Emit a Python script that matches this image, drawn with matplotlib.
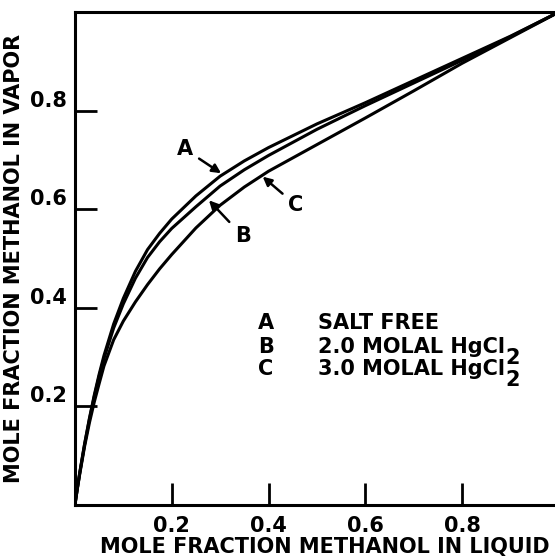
import matplotlib.pyplot as plt

# liquid mole fraction methanol
x_liq = [0.0, 0.005, 0.01, 0.02, 0.03, 0.04, 0.05, 0.06, 0.08, 0.10, 0.125,
         0.15, 0.175, 0.20, 0.25, 0.30, 0.35, 0.40, 0.50, 0.60, 0.70, 0.80,
         0.90, 1.0]
# vapor mole fraction, A: salt free
y_a = [0.0, 0.034, 0.066, 0.124, 0.176, 0.223, 0.265, 0.303, 0.367, 0.419,
       0.474, 0.518, 0.551, 0.580, 0.627, 0.667, 0.698, 0.725, 0.773, 0.816,
       0.861, 0.906, 0.951, 1.0]
# B: 2.0 molal HgCl2
y_b = [0.0, 0.0335, 0.065, 0.123, 0.174, 0.220, 0.261, 0.297, 0.359, 0.408,
       0.460, 0.502, 0.534, 0.561, 0.605, 0.647, 0.680, 0.709, 0.762, 0.810,
       0.856, 0.902, 0.950, 1.0]
# C: 3.0 molal HgCl2
y_c = [0.0, 0.033, 0.063, 0.119, 0.167, 0.209, 0.246, 0.282, 0.335, 0.373,
       0.412, 0.447, 0.479, 0.508, 0.562, 0.608, 0.645, 0.677, 0.731, 0.785,
       0.840, 0.896, 0.948, 1.0]

ticks = [0.2, 0.4, 0.6, 0.8]
tick_labels = ['0.2', '0.4', '0.6', '0.8']
legend_keys = ['A', 'B', 'C']
legend_text = ['SALT FREE', '2.0 MOLAL HgCl', '3.0 MOLAL HgCl']

plt.rcParams['font.family'] = ['DejaVu Sans']
plt.rcParams['font.weight'] = 'bold'

fig = plt.figure(figsize=(5.55, 5.57), dpi=100)
ax = fig.add_axes([0.135, 0.0934, 0.865, 0.885])

for yv in (y_a, y_b, y_c):
    ax.plot(x_liq, yv, color='black', lw=2.2, solid_joinstyle='round')

ax.set_xlim(0, 0.992)
ax.set_ylim(0, 1.0)

ax.spines['right'].set_visible(False)
for s in ('left', 'bottom', 'top'):
    ax.spines[s].set_linewidth(2.2)

ax.set_xticks(ticks)
ax.set_xticklabels(tick_labels)
ax.set_yticks(ticks)
ax.set_yticklabels(tick_labels, va='bottom')
ax.tick_params(direction='in', length=16, width=2, labelsize=15, pad=6)
ax.tick_params(axis='x', pad=8)

ax.set_xlabel('MOLE FRACTION METHANOL IN LIQUID', fontsize=15,
              fontweight='bold', labelpad=1)
ax.xaxis.set_label_coords(0.52, -0.065)
ax.set_ylabel('MOLE FRACTION METHANOL IN VAPOR', fontsize=15,
              fontweight='bold', labelpad=4)

arrow = dict(arrowstyle='-|>', color='black', lw=1.8, mutation_scale=13,
             shrinkA=3, shrinkB=0)
ax.annotate('A', xy=(0.302, 0.673), xytext=(0.227, 0.722), fontsize=15,
            ha='center', va='center', arrowprops=arrow)
ax.annotate('B', xy=(0.277, 0.618), xytext=(0.347, 0.545), fontsize=15,
            ha='center', va='center', arrowprops=arrow)
ax.annotate('C', xy=(0.388, 0.666), xytext=(0.457, 0.608), fontsize=15,
            ha='center', va='center', arrowprops=arrow)

leg_y = [0.37, 0.32, 0.275]
for k, t, yy in zip(legend_keys, legend_text, leg_y):
    ax.text(0.395, yy, k, fontsize=15, ha='center', va='center')
    txt = ax.text(0.502, yy, t, fontsize=15, ha='left', va='center')
    if t.endswith('HgCl'):
        ax.annotate('2', xy=(1, 0), xycoords=txt, xytext=(0.5, 7),
                    textcoords='offset points', fontsize=15,
                    ha='left', va='top')

fig.savefig('out.png', dpi=100)
